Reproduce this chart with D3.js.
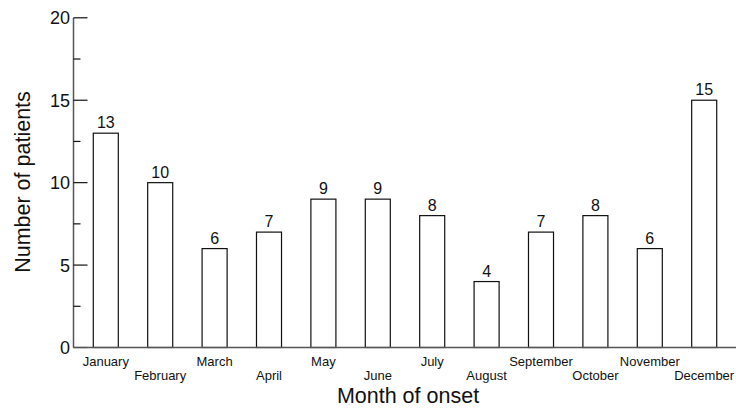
<!DOCTYPE html>
<html>
<head>
<meta charset="utf-8">
<script src="https://cdn.jsdelivr.net/npm/d3@7"></script>
<style>
  html, body { margin: 0; padding: 0; background: #fff; }
  svg { display: block; }
  text { font-family: "Liberation Sans", Arial, sans-serif; fill: #111; }
</style>
</head>
<body>
<svg id="chart" width="736" height="409"></svg>
<script>
// Patients by month of onset
const months = ["January", "February", "March", "April", "May", "June",
                "July", "August", "September", "October", "November", "December"];
const patients = [13, 10, 6, 7, 9, 9, 8, 4, 7, 8, 6, 15];
const majorTicks = [0, 5, 10, 15, 20];
const minorTicks = [2.5, 7.5, 12.5, 17.5];

const svg = d3.select("#chart");
const axisX = 73.5;
const axisColor = "#555";

const x = d3.scaleBand()
  .domain(months)
  .range([78.6, 731.4])
  .paddingInner(0.54)
  .paddingOuter(0.27);

const y = d3.scaleLinear().domain([0, 20]).range([347.5, 17.8]);

// Bars
svg.append("g").selectAll("rect")
  .data(months)
  .join("rect")
  .attr("x", d => x(d))
  .attr("y", (d, i) => y(patients[i]))
  .attr("width", x.bandwidth())
  .attr("height", (d, i) => y(0) - y(patients[i]))
  .attr("fill", "#fff")
  .attr("stroke", "#111")
  .attr("stroke-width", 1.2);

// Value labels above bars
svg.append("g").selectAll("text")
  .data(months)
  .join("text")
  .attr("x", d => x(d) + x.bandwidth() / 2)
  .attr("y", (d, i) => y(patients[i]) - 5)
  .attr("text-anchor", "middle")
  .attr("font-size", 16)
  .text((d, i) => patients[i]);

// Y axis: line, inward major and minor ticks, labels
const yAxis = svg.append("g");
yAxis.append("line")
  .attr("x1", axisX).attr("x2", axisX)
  .attr("y1", y(20)).attr("y2", y(0))
  .attr("stroke", axisColor).attr("stroke-width", 1.5);
yAxis.selectAll("line.major")
  .data(majorTicks)
  .join("line")
  .attr("class", "major")
  .attr("x1", axisX).attr("x2", axisX + 14)
  .attr("y1", d => y(d)).attr("y2", d => y(d))
  .attr("stroke", "#111").attr("stroke-width", 1.2);
yAxis.selectAll("line.minor")
  .data(minorTicks)
  .join("line")
  .attr("class", "minor")
  .attr("x1", axisX).attr("x2", axisX + 7)
  .attr("y1", d => y(d)).attr("y2", d => y(d))
  .attr("stroke", "#111").attr("stroke-width", 1.2);
yAxis.selectAll("text")
  .data(majorTicks)
  .join("text")
  .attr("x", 70)
  .attr("y", d => y(d))
  .attr("dy", "0.36em")
  .attr("text-anchor", "end")
  .attr("font-size", 18)
  .text(d => d);

// X axis baseline
svg.append("line")
  .attr("x1", axisX).attr("x2", 736)
  .attr("y1", y(0)).attr("y2", y(0))
  .attr("stroke", axisColor).attr("stroke-width", 1.5);

// Month labels in two staggered rows
svg.append("g").selectAll("text")
  .data(months)
  .join("text")
  .attr("x", d => x(d) + x.bandwidth() / 2)
  .attr("y", (d, i) => i % 2 === 0 ? 366 : 380)
  .attr("text-anchor", "middle")
  .attr("font-size", 13)
  .text(d => d);

// Axis titles
svg.append("text")
  .attr("x", 408)
  .attr("y", 403)
  .attr("text-anchor", "middle")
  .attr("font-size", 21.5)
  .text("Month of onset");

svg.append("text")
  .attr("transform", "translate(30,182) rotate(-90)")
  .attr("text-anchor", "middle")
  .attr("font-size", 21.5)
  .text("Number of patients");
</script>
</body>
</html>
